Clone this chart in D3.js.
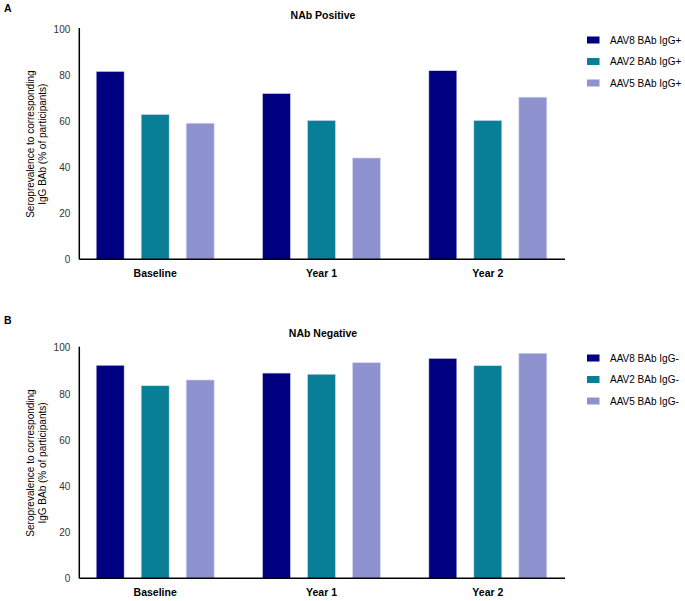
<!DOCTYPE html>
<html>
<head>
<meta charset="utf-8">
<script src="https://cdn.jsdelivr.net/npm/d3@7"></script>
<style>
  body { margin: 0; background: #fff; }
  svg { display: block; font-family: "Liberation Sans", Arial, sans-serif; }
</style>
</head>
<body>
<svg id="chart" width="685" height="601"></svg>
<script>
const categories = ["Baseline", "Year 1", "Year 2"];
const seriesKeys = ["AAV8", "AAV2", "AAV5"];
const colors = ["#000080", "#087f96", "#8e93cf"];
const yTicks = [0, 20, 40, 60, 80, 100];

const positiveAAV8 = [81.6, 72.0, 81.9];
const positiveAAV2 = [62.9, 60.3, 60.3];
const positiveAAV5 = [59.1, 44.0, 70.4];
const positiveLegend = ["AAV8 BAb IgG+", "AAV2 BAb IgG+", "AAV5 BAb IgG+"];

const negativeAAV8 = [92.4, 89.0, 95.4];
const negativeAAV2 = [83.5, 88.5, 92.2];
const negativeAAV5 = [86.0, 93.5, 97.6];
const negativeLegend = ["AAV8 BAb IgG-", "AAV2 BAb IgG-", "AAV5 BAb IgG-"];

const panels = [
  { letter: "A", title: "NAb Positive", values: [positiveAAV8, positiveAAV2, positiveAAV5], legend: positiveLegend,
    top: 29, bottom: 259.3, letterY: 12, titleY: 19, legendY: 40 },
  { letter: "B", title: "NAb Negative", values: [negativeAAV8, negativeAAV2, negativeAAV5], legend: negativeLegend,
    top: 347.7, bottom: 578.3, letterY: 324, titleY: 337, legendY: 358 }
];

const svg = d3.select("#chart");
const axisX = 79.3, axisRight = 565;

const x0 = d3.scaleBand().domain(categories).range([72, 571]).paddingInner(0).paddingOuter(0);
const x1 = d3.scaleBand().domain(seriesKeys).range([-67.5, 67.5]).paddingInner(0.378).paddingOuter(0.189);

panels.forEach(p => {
  const g = svg.append("g");
  const y = d3.scaleLinear().domain([0, 100]).range([p.bottom, p.top]);

  g.append("text").attr("x", 4).attr("y", p.letterY)
    .attr("font-size", 10.5).attr("font-weight", "bold").text(p.letter);
  g.append("text").attr("x", 323).attr("y", p.titleY).attr("text-anchor", "middle")
    .attr("font-size", 10.5).attr("font-weight", "bold").text(p.title);

  // bars
  const data = [];
  categories.forEach((c, i) => seriesKeys.forEach((k, j) => data.push({ c, k, j, v: p.values[j][i] })));
  g.selectAll("rect.bar").data(data).enter().append("rect")
    .attr("class", "bar")
    .attr("x", d => x0(d.c) + x0.bandwidth() / 2 + x1(d.k))
    .attr("width", x1.bandwidth())
    .attr("y", d => y(d.v))
    .attr("height", d => y(0) - y(d.v))
    .attr("fill", d => colors[d.j])
    .attr("stroke", "#d8dcf0").attr("stroke-width", 0.6);

  // y axis
  const yAxis = d3.axisLeft(y).tickValues(yTicks).tickSize(0).tickPadding(9);
  const ya = g.append("g").attr("transform", `translate(${axisX},0)`).call(yAxis);
  ya.select(".domain").attr("stroke", "#000").attr("stroke-width", 1.5).attr("d", `M0,${p.top - 1}V${p.bottom}`);
  ya.selectAll("text").attr("font-size", 10).attr("fill", "#333").attr("font-family", "Liberation Sans, Arial, sans-serif");

  // x axis
  const xAxis = d3.axisBottom(x0).tickSize(0).tickPadding(10);
  const xa = g.append("g").attr("transform", `translate(0,${p.bottom})`).call(xAxis);
  xa.select(".domain").attr("stroke", "#000").attr("stroke-width", 1.5).attr("d", `M${axisX},0H${axisRight}`);
  xa.selectAll("text").attr("font-size", 10.5).attr("font-weight", "bold").attr("fill", "#000")
    .attr("font-family", "Liberation Sans, Arial, sans-serif");

  // y title
  const cy = (p.top + p.bottom) / 2;
  const yt = g.append("text").attr("transform", `translate(34,${cy}) rotate(-90)`)
    .attr("text-anchor", "middle").attr("font-size", 10).attr("fill", "#000");
  yt.append("tspan").attr("x", 0).attr("dy", 0).text("Seroprevalence to corresponding");
  yt.append("tspan").attr("x", 0).attr("dy", 12).text("IgG BAb (% of participants)");

  // legend
  const lg = g.append("g").attr("transform", `translate(587,${p.legendY})`);
  p.legend.forEach((t, i) => {
    const row = lg.append("g").attr("transform", `translate(0,${i * 21.5})`);
    row.append("rect").attr("x", 0).attr("y", -3.5).attr("width", 12.5).attr("height", 7).attr("fill", colors[i]);
    row.append("text").attr("x", 23).attr("y", 3.5).attr("font-size", 10).attr("fill", "#000").text(t);
  });
});
</script>
</body>
</html>
